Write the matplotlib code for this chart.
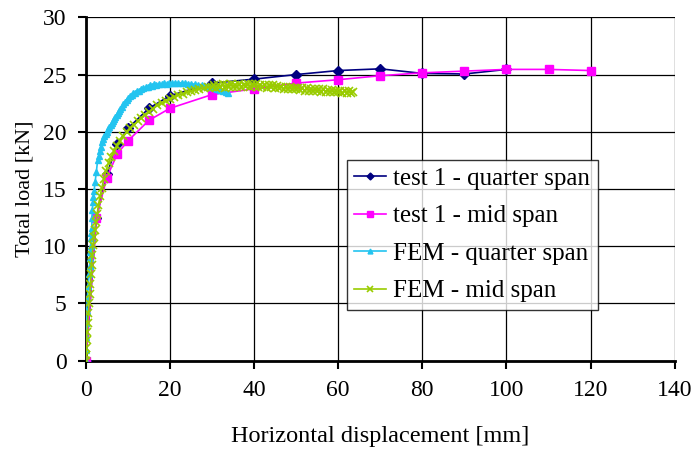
import matplotlib
matplotlib.use("Agg")
import matplotlib.pyplot as plt

# test 1 measurements
quarter_x = [0, 2.5, 5, 7.5, 10, 15, 20, 30, 40, 50, 60, 70, 80, 90, 100]
quarter_y = [0, 12.5, 16.3, 18.9, 20.3, 22.05, 23.15, 24.25, 24.6, 25.0, 25.35, 25.5, 25.1, 25.05, 25.45]

mid_x = [0, 2.5, 5, 7.5, 10, 15, 20, 30, 40, 50, 60, 70, 80, 90, 100, 110, 120]
mid_y = [0, 12.5, 16.0, 18.1, 19.2, 21.0, 22.05, 23.25, 23.75, 24.25, 24.55, 24.9, 25.15, 25.3, 25.45, 25.45, 25.35]

# FEM results
fem_q_x = [0, 0.0, 0.05, 0.1, 0.2, 0.36, 0.55, 0.76, 0.9, 1.0, 1.1, 1.16, 1.2, 1.3, 1.4, 1.47,
           1.55, 1.7, 1.8, 1.95, 2.2, 2.5, 2.8, 3.05, 3.3, 3.55, 3.8, 4.1, 4.4, 4.7, 5.0, 5.3,
           5.6, 5.9, 6.2, 6.5, 6.7, 7.0, 7.3, 7.6, 7.9, 8.2, 8.5, 8.9, 9.3, 9.7, 10.1, 10.5,
           10.9, 11.3, 11.7, 12.2, 12.7, 13.2, 13.7, 14.2, 14.7, 15.2, 15.7, 16.2, 16.8, 17.4,
           18.0, 18.6, 19.2, 19.8, 20.4, 21.2, 22.0, 22.8, 23.6, 24.3, 25.1, 25.9, 26.7, 27.5,
           28.3, 29.1, 29.9, 30.6, 31.2, 31.9, 32.6, 33.3, 33.9]
fem_q_y = [0, 0.9, 2.1, 3.3, 4.3, 5.45, 6.5, 7.6, 8.3, 8.95, 9.5, 10.0, 10.7, 11.2, 11.6, 12.45,
           13.2, 13.9, 14.3, 14.8, 15.6, 16.5, 17.5, 17.9, 18.3, 18.7, 19.1, 19.35, 19.6, 19.8, 20.0, 20.2,
           20.4, 20.6, 20.75, 20.95, 21.1, 21.3, 21.5, 21.65, 21.85, 22.0, 22.2, 22.4, 22.6, 22.8, 22.95, 23.1,
           23.2, 23.35, 23.4, 23.55, 23.6, 23.75, 23.8, 23.9, 23.9, 24.05, 24.0, 24.15, 24.1, 24.2,
           24.15, 24.3, 24.2, 24.3, 24.25, 24.3, 24.25, 24.3, 24.25, 24.2, 24.2, 24.15, 24.1, 24.05,
           24.0, 23.95, 23.9, 23.8, 23.75, 23.65, 23.6, 23.5, 23.4]

fem_m_x = [0, 0.05, 0.1, 0.2, 0.3, 0.45, 0.6, 0.8, 0.95, 1.1, 1.25, 1.35, 1.5, 1.7, 1.9, 2.1,
           2.4, 2.7, 3.0, 3.4, 3.8, 4.3, 4.8, 5.4, 6.0, 6.7, 7.4, 8.1, 8.9, 9.7, 10.5, 11.4,
           12.3, 13.2, 14.1, 15.0, 16.0, 17.0, 18.0, 19.0, 20.0, 21.0, 22.0, 23.0, 24.0, 25.0,
           26.0, 27.0, 28.0, 29.0, 30.0, 30.5, 31.0, 31.5, 32.0, 32.5, 33.0, 33.5, 34.0, 34.5,
           35.0, 35.5, 36.0, 36.5, 37.0, 37.5, 38.0, 38.5, 39.0, 39.5, 40.0, 40.5, 41.0, 41.5,
           42.0, 42.5, 43.0, 43.5, 44.0, 44.5, 45.0, 45.5, 46.0, 46.5, 47.0, 47.5, 48.0, 48.5,
           49.0, 49.5, 50.0, 50.5, 51.0, 51.5, 52.0, 52.5, 53.0, 53.5, 54.0, 54.5, 55.0, 55.5,
           56.0, 56.5, 57.0, 57.5, 58.0, 58.5, 59.0, 59.5, 60.0, 60.5, 61.0, 61.5, 62.0, 62.5,
           63.0, 63.5]
fem_m_y = [0, 0.5, 1.1, 1.8, 2.5, 3.3, 4.2, 5.0, 5.8, 6.7, 7.6, 8.4, 9.2, 10.1, 10.8, 11.4,
           12.1, 12.8, 13.6, 14.4, 15.1, 15.9, 16.6, 17.3, 17.8, 18.3, 18.8, 19.2, 19.6, 19.95, 20.3, 20.6,
           20.9, 21.2, 21.5, 21.75, 22.0, 22.3, 22.5, 22.7, 22.85, 23.0, 23.2, 23.3, 23.45, 23.55,
           23.65, 23.75, 23.8, 23.9, 23.95, 24.10, 23.85, 24.05, 23.90, 24.15, 23.85, 24.05, 23.95, 24.15,
           23.90, 24.10, 23.95, 24.20, 23.90, 24.10, 24.00, 24.20, 23.95, 24.15, 24.00, 24.15, 23.90, 24.10,
           23.95, 24.10, 23.85, 24.05, 23.90, 24.05, 23.80, 24.00, 23.85, 23.95, 23.75, 23.95, 23.75, 23.90,
           23.70, 23.85, 23.70, 23.85, 23.65, 23.80, 23.60, 23.80, 23.60, 23.75, 23.55, 23.75, 23.55, 23.70,
           23.50, 23.70, 23.50, 23.65, 23.45, 23.65, 23.45, 23.60, 23.45, 23.60, 23.40, 23.55, 23.40, 23.55,
           23.40, 23.50]

plt.rcParams["font.family"] = ["Liberation Serif", "DejaVu Serif"]

fig = plt.figure(figsize=(6.95, 4.51), dpi=100)
ax = fig.add_axes([0.1235, 0.2002, 0.8473, 0.7614])

ax.plot(quarter_x, quarter_y, color="#000080", lw=1.2, marker="D", ms=5,
        label="test 1 - quarter span", zorder=3)
ax.plot(mid_x, mid_y, color="#FF00FF", lw=1.2, marker="s", ms=6,
        label="test 1 - mid span", zorder=3)
ax.plot(fem_q_x, fem_q_y, color="#22C4F0", lw=1.2, marker="^", ms=5,
        label="FEM - quarter span", zorder=4)
ax.plot(fem_m_x, fem_m_y, color="#99CC00", lw=1.2, marker="x", ms=5.5, mew=1.2,
        label="FEM - mid span", zorder=5)

ax.set_xlim(0, 140)
ax.set_ylim(0, 30)
ax.set_xticks(range(0, 141, 20))
ax.set_yticks(range(0, 31, 5))
ax.grid(True, color="black", lw=0.9)
ax.set_axisbelow(True)

for s in ["top", "right"]:
    ax.spines[s].set_visible(False)
for s in ["left", "bottom"]:
    ax.spines[s].set_linewidth(2)
ax.tick_params(direction="out", length=6, width=1.5, labelsize=17, pad=8)

ax.set_xlabel("Horizontal displacement [mm]", fontsize=17.5, labelpad=18)
ax.set_ylabel("Total load [kN]", fontsize=16, labelpad=6)

leg = ax.legend(loc="upper left", bbox_to_anchor=(0.4435, 0.5845), fontsize=18,
                frameon=True, fancybox=False, shadow=False, borderpad=0.3,
                labelspacing=0.6, handlelength=1.25, handletextpad=0.3,
                borderaxespad=0, markerscale=0.7)
leg.get_frame().set_edgecolor("black")
leg.get_frame().set_linewidth(1.0)

fig.savefig("out.png", dpi=100)
